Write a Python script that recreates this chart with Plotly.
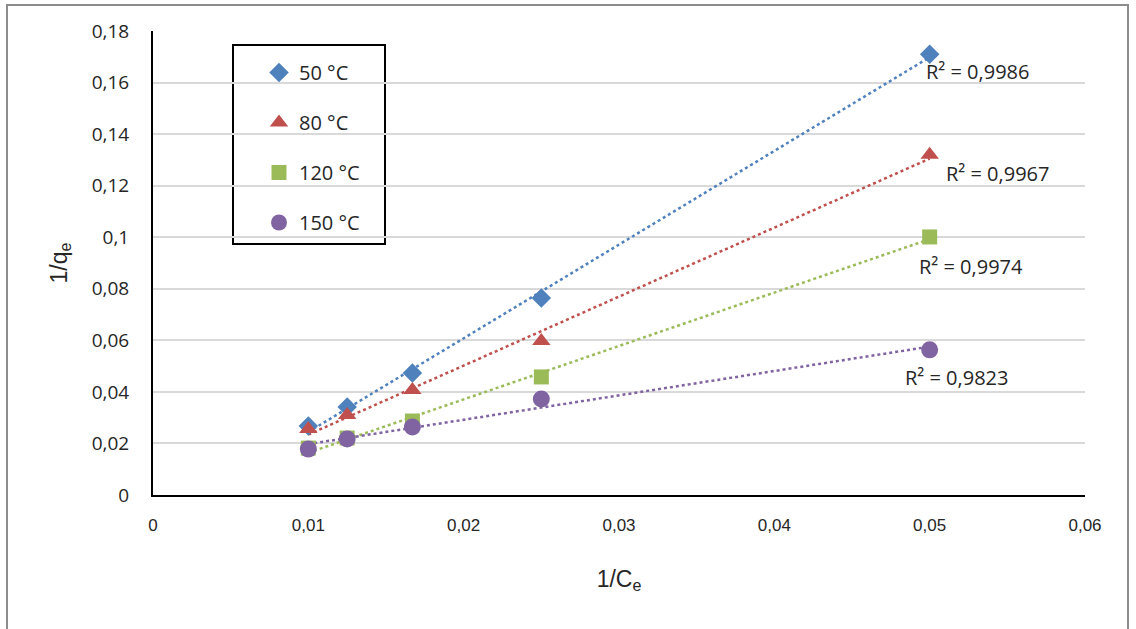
import numpy as np
import plotly.graph_objects as go

# 1/Ce values (L/mg) shared by all series
inv_ce = [0.01, 0.0125, 0.0167, 0.025, 0.05]

# 1/qe values for each temperature
inv_qe_50 = [0.0268, 0.0341, 0.0473, 0.0764, 0.1710]
inv_qe_80 = [0.0256, 0.0310, 0.0407, 0.0597, 0.1320]
inv_qe_120 = [0.0182, 0.0221, 0.0287, 0.0458, 0.1001]
inv_qe_150 = [0.0178, 0.0217, 0.0264, 0.0372, 0.0563]

series_names = ["50 °C", "80 °C", "120 °C", "150 °C"]
r2_labels = ["R² = 0,9986", "R² = 0,9967", "R² = 0,9974", "R² = 0,9823"]

x_ticks = [0, 0.01, 0.02, 0.03, 0.04, 0.05, 0.06]
x_tick_text = ["0", "0,01", "0,02", "0,03", "0,04", "0,05", "0,06"]
y_ticks = [0, 0.02, 0.04, 0.06, 0.08, 0.1, 0.12, 0.14, 0.16, 0.18]
y_tick_text = ["0", "0,02", "0,04", "0,06", "0,08", "0,1", "0,12", "0,14", "0,16", "0,18"]

colors = ["#4F81BD", "#C0504D", "#9BBB59", "#8064A2"]
symbols = ["diamond", "triangle-up", "square", "circle"]
sizes = [15, 16, 15, 17]
label_pos = [(0.05305, 0.1641), (0.05434, 0.1249), (0.05266, 0.0888), (0.0517, 0.0454)]

fig = go.Figure()
all_y = [inv_qe_50, inv_qe_80, inv_qe_120, inv_qe_150]

for i, ys in enumerate(all_y):
    # linear trend line fitted to the points
    slope, icpt = np.polyfit(inv_ce, ys, 1)
    xs_fit = np.array([inv_ce[0], inv_ce[-1]])
    fig.add_trace(go.Scatter(
        x=xs_fit, y=slope * xs_fit + icpt, mode="lines",
        line=dict(color=colors[i], width=2.5, dash="dot"),
        showlegend=False, hoverinfo="skip"))

for i, ys in enumerate(all_y):
    fig.add_trace(go.Scatter(
        x=inv_ce, y=ys, mode="markers", name=series_names[i],
        legendgroup=series_names[i],
        marker=dict(symbol=symbols[i], size=sizes[i], color=colors[i])))
    fig.add_annotation(
        x=label_pos[i][0], y=label_pos[i][1], text=r2_labels[i],
        showarrow=False, xanchor="center", yanchor="middle",
        font=dict(family="Open Sans", size=20, color="#262626"))

def px_x(px):
    return (px - 153) / 932

def px_y(py):
    return (495 - py) / 464

# outer frame around the whole chart
fig.add_shape(type="rect", xref="paper", yref="paper",
              x0=px_x(7), x1=px_x(1128), y0=px_y(640), y1=px_y(5),
              line=dict(color="#8c8c8c", width=2), layer="below")

# legend frame
fig.add_shape(type="rect", xref="paper", yref="paper",
              x0=px_x(233), x1=px_x(385), y0=px_y(244), y1=px_y(45),
              line=dict(color="black", width=2), fillcolor="white",
              layer="between")

fig.update_layout(
    width=1136, height=629,
    margin=dict(l=153, r=51, t=31, b=134),
    paper_bgcolor="white", plot_bgcolor="white",
    showlegend=True,
    legend=dict(
        x=px_x(259), y=px_y(53), xanchor="left", yanchor="top",
        borderwidth=0, bgcolor="rgba(0,0,0,0)",
        font=dict(family="Open Sans", size=20, color="#262626"),
        tracegroupgap=21, itemwidth=30),
    xaxis=dict(
        range=[0, 0.06], tickvals=x_ticks, ticktext=x_tick_text,
        showgrid=False, zeroline=False, showline=True,
        linecolor="black", linewidth=2, ticks="",
        ticklabelstandoff=14,
        tickfont=dict(family="Liberation Sans", size=17, color="#262626"),
        title=dict(text="1/C<sub>e</sub>", standoff=36,
                   font=dict(family="Liberation Sans", size=23, color="#262626"))),
    yaxis=dict(
        range=[0, 0.18], tickvals=y_ticks, ticktext=y_tick_text,
        showgrid=True, gridcolor="#d9d9d9", gridwidth=2,
        zeroline=False, showline=True, linecolor="black", linewidth=2, ticks="",
        ticklabelstandoff=18,
        tickfont=dict(family="Open Sans", size=19, color="#262626"),
        title=dict(text="1/q<sub>e</sub>", standoff=18,
                   font=dict(family="Liberation Sans", size=23, color="#262626"))),
)

fig.write_html("out.html")
